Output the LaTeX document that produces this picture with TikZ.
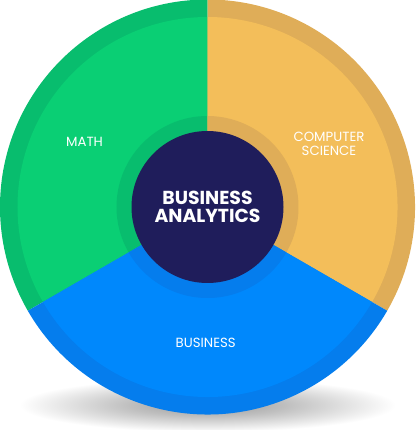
\documentclass[tikz,border=0pt]{standalone}
\usepackage{fontspec}
\setmainfont{Poppins}
\usetikzlibrary{positioning}
\definecolor{bamath}{HTML}{0ACF74}
\definecolor{bamathdk}{HTML}{08BD6E}
\definecolor{bacs}{HTML}{F3BE5A}
\definecolor{bacsdk}{HTML}{DFAD58}
\definecolor{babiz}{HTML}{0088FC}
\definecolor{babizdk}{HTML}{057DED}
\definecolor{banavy}{HTML}{1F1D5B}
\pgfdeclareradialshading{bashadow}{\pgfpoint{0bp}{0bp}}{color(0bp)=(black!40); color(10bp)=(black!25); color(24bp)=(white); color(50bp)=(white)}

\begin{document}
\begin{tikzpicture}[x=1pt, y=1pt,
          seglabel/.style={text=white, font=\fontsize{13.3}{13.3}\selectfont, align=center, inner sep=0pt},
          hub/.style={circle, fill=banavy, minimum size=152pt, inner sep=0pt, text=white, align=center,
                      font=\fontsize{18.8}{18}\selectfont\bfseries}]
          \useasboundingbox (-207.5,-223) rectangle (207.5,207);
          % soft shadow under the disc
          \shade[shading=bashadow] (0,-198) ellipse [x radius=196, y radius=28];
          % three fields: dark rim, light body, dark collar
          \foreach \from/\to/\light/\dark in {90/210/bamath/bamathdk, -30/90/bacs/bacsdk, 210/330/babiz/babizdk}{
            \fill[\dark] (0,0) -- (\from:207.5) arc[start angle=\from, end angle=\to, radius=207.5] -- cycle;
            \fill[\light] (0,0) -- (\from:190) arc[start angle=\from, end angle=\to, radius=190] -- cycle;
            \fill[\dark] (0,0) -- (\from:91) arc[start angle=\from, end angle=\to, radius=91] -- cycle;
          }
          \node[hub] (core) at (0,0) {BUSINESS\\ANALYTICS};
          \node[seglabel] (math) at (-123,65) {MATH};
          \node[seglabel] (cs) at (121.5,63) {COMPUTER\\SCIENCE};
          \node[seglabel] (biz) at (-1.8,-136) {BUSINESS};
        \end{tikzpicture}
\end{document}
